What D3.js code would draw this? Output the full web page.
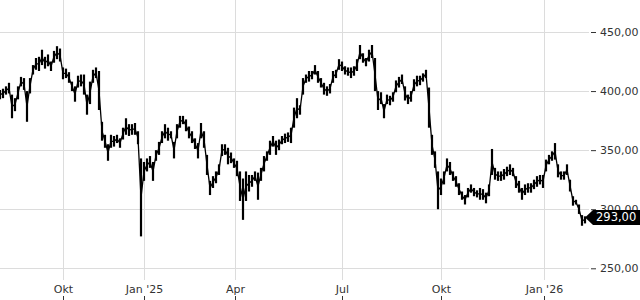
<!DOCTYPE html>
<html lang="de">
<head>
<meta charset="UTF-8">
<title>Kursverlauf</title>
<script src="https://cdn.jsdelivr.net/npm/d3@7"></script>
<style>
  body { margin: 0; background: #fff; }
  svg text { font-family: "DejaVu Sans", sans-serif; }
</style>
</head>
<body>
<svg width="640" height="300"></svg>
<script>
// high / low per sample (roughly every 2 trading days)
var highs = [
  401,402,404,407,397,394,404,412,411,400,411,422,428,429,435,429,431,425,434,438,436,420,419,416,408,404,413,414,414,397,408,418,420,417,
  374,363,355,363,362,363,360,369,377,372,372,373,366,343,340,343,345,340,350,357,366,372,369,366,357,372,379,379,376,370,366,
  360,356,373,366,346,324,328,332,338,355,355,352,348,343,341,332,326,332,329,329,332,331,335,345,349,358,362,358,359,362,364,365,
  369,386,394,388,411,414,417,417,422,417,411,407,404,406,417,418,427,425,421,420,420,421,427,439,432,428,435,439,428,400,399,389,
  397,396,399,409,412,414,404,397,400,410,413,413,415,418,403,363,349,332,326,332,343,340,332,328,322,315,312,318,321,318,316,
  318,317,314,321,351,335,332,332,334,336,338,335,328,324,318,321,322,322,325,328,329,329,342,346,349,356,338,332,332,338,325,311,308,304,295,294
];
var lows = [
  393,394,397,398,377,383,393,404,401,374,398,414,418,417,422,419,421,417,424,427,425,410,411,407,400,391,403,404,397,380,389,407,411,384,
  358,352,341,352,353,356,352,359,363,362,363,363,355,277,324,332,335,324,341,346,356,360,358,360,343,360,369,372,366,360,356,
  351,343,360,352,329,312,318,322,329,345,346,338,339,335,328,307,291,307,315,319,324,308,324,332,341,346,353,346,350,355,356,357,
  356,369,377,380,397,407,408,410,414,407,403,397,396,398,407,411,418,417,414,413,411,413,417,427,424,421,425,428,400,384,389,377,
  389,388,391,399,403,406,392,389,391,400,404,405,408,411,369,346,335,300,312,321,332,329,324,319,312,308,304,310,314,311,310,
  308,308,305,311,329,325,324,324,325,328,329,328,318,314,308,312,314,314,317,319,321,318,332,338,341,342,327,325,325,329,315,303,304,296,286,288
];
var lastPrice = 293;
var lastLabel = "293,00";

var yTicks = [250, 300, 350, 400, 450];
var xTickIdx = [21, 48, 78.3, 114, 147, 181.3];
var xTickLabels = ["Okt", "Jan '25", "Apr", "Jul", "Okt", "Jan '26"];

var svg = d3.select("svg");
var n = highs.length;

var x = d3.scaleLinear().domain([0, n - 1]).range([0, 585]);
var y = d3.scaleLinear().domain([250, 450]).range([268.3, 32]);

// grid
svg.append("g").selectAll("line.h")
  .data(yTicks)
  .join("line")
  .attr("x1", 0).attr("x2", 589)
  .attr("y1", function(d){ return Math.round(y(d)) + 0.5; })
  .attr("y2", function(d){ return Math.round(y(d)) + 0.5; })
  .attr("stroke", "#dcdcdc");

svg.append("g").selectAll("line.v")
  .data(xTickIdx)
  .join("line")
  .attr("x1", function(d){ return Math.round(x(d)) + 0.5; })
  .attr("x2", function(d){ return Math.round(x(d)) + 0.5; })
  .attr("y1", 0).attr("y2", 280)
  .attr("stroke", "#dcdcdc");

// y axis on the right
var yAxis = d3.axisRight(y)
  .tickValues(yTicks)
  .tickSize(5)
  .tickPadding(4)
  .tickFormat(function(d){ return d3.format(".2f")(d).replace(".", ","); });

var gy = svg.append("g").attr("transform", "translate(591,0)").call(yAxis);
gy.select(".domain").remove();
gy.selectAll(".tick line").attr("stroke", "#333");
gy.selectAll("text").attr("font-size", 11).attr("fill", "#333")
  .attr("font-family", "DejaVu Sans, sans-serif");

// x axis labels
var xAxis = d3.axisBottom(x)
  .tickValues(xTickIdx)
  .tickSize(0)
  .tickFormat(function(d, i){ return xTickLabels[i]; });
var gx = svg.append("g").attr("transform", "translate(0,282)").call(xAxis);
gx.select(".domain").remove();
gx.selectAll("text").attr("font-size", 11).attr("fill", "#333")
  .attr("font-family", "DejaVu Sans, sans-serif");
svg.append("g").selectAll("line")
  .data(xTickIdx)
  .join("line")
  .attr("x1", function(d){ return Math.round(x(d)) + 0.5; })
  .attr("x2", function(d){ return Math.round(x(d)) + 0.5; })
  .attr("y1", 296).attr("y2", 300)
  .attr("stroke", "#333");

// price bars
var idx = d3.range(n);
svg.append("path")
  .datum(idx)
  .attr("fill", "none")
  .attr("stroke", "#000")
  .attr("stroke-width", 1.3)
  .attr("d", d3.line()
    .x(function(i){ return x(i); })
    .y(function(i){ return y((highs[i] + lows[i]) / 2); }));

svg.append("g").selectAll("line")
  .data(idx)
  .join("line")
  .attr("x1", function(i){ return x(i); })
  .attr("x2", function(i){ return x(i); })
  .attr("y1", function(i){ return y(highs[i]); })
  .attr("y2", function(i){ return y(lows[i]); })
  .attr("stroke", "#000")
  .attr("stroke-width", 2.2);

// last price marker
var ly = y(lastPrice);
svg.append("path")
  .attr("d", "M585," + ly + "L593," + (ly - 7.5) + "L640," + (ly - 7.5) +
             "L640," + (ly + 7.5) + "L593," + (ly + 7.5) + "Z")
  .attr("fill", "#000");
svg.append("text")
  .attr("x", 596).attr("y", ly + 4)
  .attr("font-size", 11.5)
  .attr("fill", "#fff")
  .text(lastLabel);
</script>
</body>
</html>
